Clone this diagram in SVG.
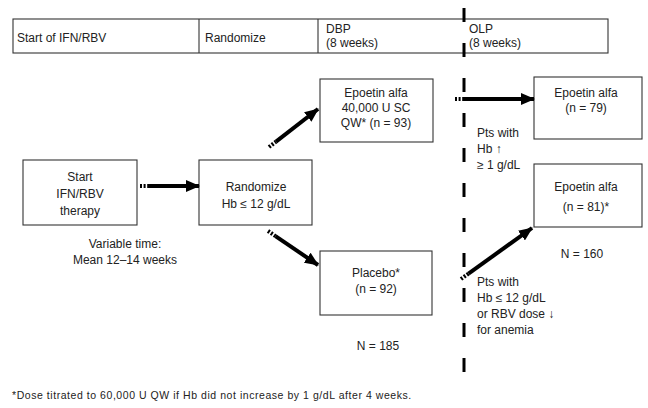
<svg xmlns="http://www.w3.org/2000/svg" width="648" height="408" viewBox="0 0 648 408">
<style>
text{font-family:"Liberation Sans",Arial,sans-serif;font-size:12px;fill:#222}
.c{text-anchor:middle}
.box{fill:#fff;stroke:#333;stroke-width:1.1}
.shaft{stroke:#000;stroke-width:4;fill:none}
.tail{stroke:#000;stroke-width:4;fill:none;stroke-dasharray:2 1.6}
.fn{font-size:10.5px;letter-spacing:0.55px}
</style>
<defs>
<marker id="ah" markerUnits="userSpaceOnUse" markerWidth="14" markerHeight="12" refX="13" refY="6" orient="auto">
<path d="M0,0 L14,6 L0,12 Z" fill="#000"/>
</marker>
</defs>
<rect width="648" height="408" fill="#fff"/>
<g id="timeline">
<rect class="box" x="13" y="19" width="595" height="34"/>
<line x1="199" y1="19" x2="199" y2="53" stroke="#333" stroke-width="1.1"/>
<line x1="318" y1="19" x2="318" y2="53" stroke="#333" stroke-width="1.1"/>
<text x="17" y="42">Start of IFN/RBV</text>
<text x="205" y="42">Randomize</text>
<text x="326" y="33">DBP</text>
<text x="326" y="47">(8 weeks)</text>
<text x="469" y="33">OLP</text>
<text x="469" y="47">(8 weeks)</text>
</g>
<g id="phase-divider">
<line x1="464" y1="8" x2="464" y2="372" stroke="#000" stroke-width="3" stroke-dasharray="14 21"/>
</g>
<g id="start">
<rect class="box" x="23" y="160" width="114" height="65"/>
<text class="c" x="80" y="181">Start</text>
<text class="c" x="80" y="198">IFN/RBV</text>
<text class="c" x="80" y="215">therapy</text>
</g>
<g id="randomize">
<rect class="box" x="199" y="160" width="113" height="65"/>
<text class="c" x="256" y="191">Randomize</text>
<text class="c" x="256" y="208">Hb ≤ 12 g/dL</text>
</g>
<g id="epoetin-dbp">
<rect class="box" x="320" y="79" width="113" height="63"/>
<text class="c" x="376" y="97">Epoetin alfa</text>
<text class="c" x="376" y="112">40,000 U SC</text>
<text class="c" x="376" y="127">QW* (n = 93)</text>
</g>
<g id="placebo">
<rect class="box" x="320" y="251" width="112" height="64"/>
<text class="c" x="376" y="277">Placebo*</text>
<text class="c" x="376" y="293">(n = 92)</text>
</g>
<g id="epoetin-79">
<rect class="box" x="534" y="77" width="108" height="62"/>
<text class="c" x="586" y="97">Epoetin alfa</text>
<text class="c" x="586" y="112">(n = 79)</text>
</g>
<g id="epoetin-81">
<rect class="box" x="534" y="164" width="108" height="63"/>
<text class="c" x="586" y="191">Epoetin alfa</text>
<text class="c" x="586" y="211">(n = 81)*</text>
</g>
<g id="connectors">
<line class="tail" x1="140" y1="186" x2="149" y2="186"/>
<line class="shaft" x1="149" y1="186" x2="199" y2="186" marker-end="url(#ah)"/>
<line class="tail" x1="269" y1="147" x2="276" y2="141.6"/>
<line class="shaft" x1="276" y1="141.6" x2="318" y2="109" marker-end="url(#ah)"/>
<line class="tail" x1="268" y1="231" x2="275.5" y2="236.1"/>
<line class="shaft" x1="275.5" y1="236.1" x2="318" y2="265" marker-end="url(#ah)"/>
<line class="tail" x1="455" y1="99" x2="464" y2="99"/>
<line class="shaft" x1="464" y1="99" x2="534" y2="99" marker-end="url(#ah)"/>
<line class="tail" x1="461" y1="279" x2="468.5" y2="273.6"/>
<line class="shaft" x1="468.5" y1="273.6" x2="532" y2="228" marker-end="url(#ah)"/>
</g>
<g id="labels">
<text class="c" x="125" y="248">Variable time:</text>
<text class="c" x="125" y="264">Mean 12–14 weeks</text>
<text x="477" y="137">Pts with</text>
<text x="477" y="153">Hb ↑</text>
<text x="477" y="169">≥ 1 g/dL</text>
<text x="477" y="286">Pts with</text>
<text x="477" y="302">Hb ≤ 12 g/dL</text>
<text x="477" y="318">or RBV dose ↓</text>
<text x="477" y="334">for anemia</text>
<text class="c" x="582" y="258">N = 160</text>
<text class="c" x="378" y="350">N = 185</text>
<text class="fn" x="12" y="399">*Dose titrated to 60,000 U QW if Hb did not increase by 1 g/dL after 4 weeks.</text>
</g>
</svg>
